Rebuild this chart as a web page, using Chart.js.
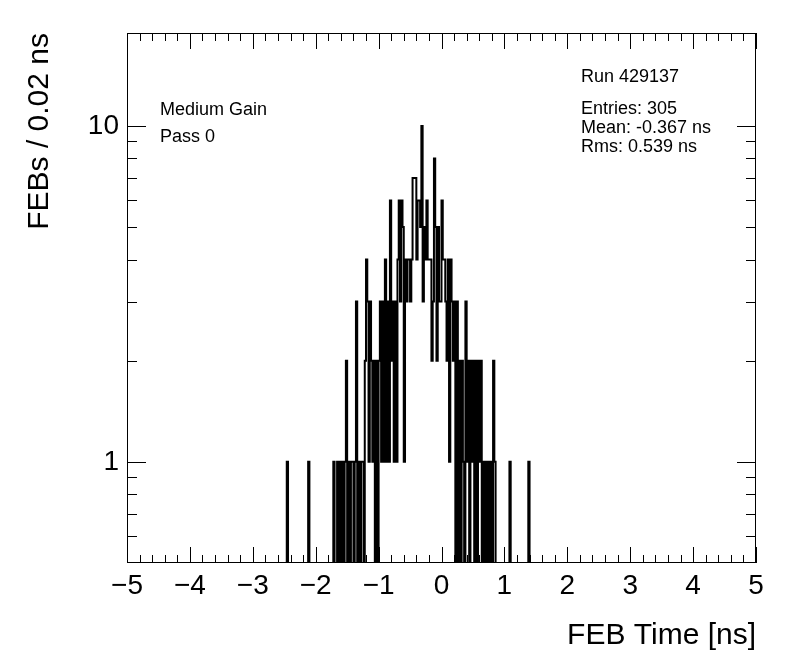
<!DOCTYPE html>
<html>
<head>
<meta charset="utf-8">
<script src="https://cdn.jsdelivr.net/npm/chart.js@4.4.1/dist/chart.umd.min.js"></script>
<style>
    html, body { margin: 0; padding: 0; background: #ffffff; }
</style>
</head>
<body>
<canvas id="feb-time" width="796" height="672"></canvas>
<script>
// FEB time histogram, 500 bins of 0.02 ns between -5 and 5 ns.
// Only the filled bins are listed (centre in ns, entries); all others are empty.
var binCentres = [
    -2.45, -2.11, -1.71, -1.65,
    -1.61, -1.57, -1.53, -1.51, -1.47, -1.43, -1.41, -1.37, -1.35, -1.31,
    -1.27, -1.25, -1.21, -1.19, -1.17, -1.15, -1.13, -1.11, -1.09, -1.07,
    -1.03, -0.99,
    -0.97, -0.95, -0.93, -0.91, -0.89, -0.87, -0.85, -0.83, -0.81, -0.79,
    -0.77, -0.75, -0.73, -0.71, -0.69, -0.67, -0.65, -0.63, -0.61, -0.59,
    -0.57, -0.55, -0.53, -0.51, -0.49, -0.47, -0.45, -0.43,
    -0.41, -0.39, -0.37, -0.35, -0.33, -0.31, -0.29, -0.27, -0.25, -0.23,
    -0.21, -0.19, -0.17, -0.15, -0.13, -0.11, -0.09, -0.07, -0.05, -0.03,
    -0.01, 0.01, 0.03, 0.05, 0.07, 0.09, 0.11, 0.13, 0.15, 0.17,
    0.19, 0.21, 0.25,
    0.29, 0.33, 0.35, 0.39, 0.41, 0.43, 0.47, 0.49, 0.51, 0.55,
    0.59, 0.61, 0.63, 0.67, 0.71, 0.75, 0.79, 0.83, 0.85,
    1.09, 1.39
];
var binCounts = [
    1, 1, 1, 1,
    1, 1, 1, 2, 1, 1, 1, 1, 3, 1,
    1, 1, 2, 4, 3, 1, 3, 2, 1, 2,
    2, 2,
    3, 1, 3, 1, 4, 1, 3, 1, 6, 2,
    3, 1, 3, 1, 4, 6, 3, 6, 5, 1,
    4, 3, 4, 4, 3, 4, 7, 7,
    7, 4, 6, 6, 5, 10, 3, 5, 4, 6,
    4, 4, 4, 2, 3, 8, 5, 2, 5, 3,
    3, 6, 4, 4, 3, 2, 4, 1, 4, 3,
    2, 3, 3,
    2, 2, 1, 3, 1, 2, 2, 1, 2, 2,
    2, 1, 2, 1, 1, 1, 1, 2, 1,
    1, 1
];

var xMin = -5, xMax = 5, binWidth = 0.02;
var yMin = 0.5, yMax = 18.9;
var xTickValues = [-5, -4, -3, -2, -1, 0, 1, 2, 3, 4, 5];
var yTickValues = [1, 10];
var yMinorTicks = [0.6, 0.7, 0.8, 0.9, 2, 3, 4, 5, 6, 7, 8, 9];

var statsLines = ["Entries: 305", "Mean: -0.367 ns", "Rms: 0.539 ns"];

// empty bins sit below the log axis, so they get drawn down through the frame
var EMPTY_LEVEL = 0.1;

var nBins = Math.round((xMax - xMin) / binWidth);
var counts = [];
for (var i = 0; i < nBins; i++) counts.push(0);
binCentres.forEach(function (c, i) {
    counts[Math.round((c - xMin - binWidth / 2) / binWidth)] = binCounts[i];
});
var steps = counts.map(function (n, k) {
    return { x: xMin + k * binWidth, y: n > 0 ? n : EMPTY_LEVEL };
});
steps.push({ x: xMax, y: steps[steps.length - 1].y });

var FONT = "'Liberation Sans', Arial, sans-serif";

var rootFrame = {
    id: "rootFrame",
    afterDatasetsDraw: function (chart) {
        var ctx = chart.ctx, a = chart.chartArea;
        var xs = chart.scales.x, ys = chart.scales.y;
        ctx.save();
        ctx.strokeStyle = "#000";
        ctx.lineWidth = 1;
        ctx.strokeRect(a.left + 0.5, a.top + 0.5, a.right - a.left - 1, a.bottom - a.top - 1);
        ctx.beginPath();
        // x ticks, every 0.2 ns, on bottom and top
        for (var i = 0; i <= 50; i++) {
            var v = xMin + i * 0.2;
            var px = Math.round(xs.getPixelForValue(v)) + 0.5;
            var len = i % 5 === 0 ? 16 : 8;
            ctx.moveTo(px, a.bottom);
            ctx.lineTo(px, a.bottom - len);
            ctx.moveTo(px, a.top);
            ctx.lineTo(px, a.top + len);
        }
        // y ticks on left and right
        yTickValues.concat(yMinorTicks).forEach(function (v) {
            var py = Math.round(ys.getPixelForValue(v)) + 0.5;
            var len = yTickValues.indexOf(v) >= 0 ? 19 : 10;
            ctx.moveTo(a.left, py);
            ctx.lineTo(a.left + len, py);
            ctx.moveTo(a.right, py);
            ctx.lineTo(a.right - len, py);
        });
        ctx.stroke();

        ctx.fillStyle = "#000";
        ctx.font = "18px " + FONT;
        ctx.textBaseline = "alphabetic";
        ctx.textAlign = "left";
        ctx.fillText("Medium Gain", 160, 115);
        ctx.fillText("Pass 0", 160, 142);
        ctx.fillText("Run 429137", 581, 82);
        statsLines.forEach(function (t, i) {
            ctx.fillText(t, 581, 114 + i * 19);
        });
        ctx.restore();
    }
};

var ctx = document.getElementById("feb-time").getContext("2d");
var chart = new Chart(ctx, {
    type: "line",
    data: {
        datasets: [
            {
                data: steps,
                stepped: true,
                borderColor: "#000",
                borderWidth: 2,
                pointRadius: 0,
                fill: false,
                clip: 0,
            },
        ],
    },
    options: {
        responsive: false,
        animation: false,
        devicePixelRatio: 1,
        layout: { padding: { top: 33, right: 40, left: 0, bottom: 0 } },
        plugins: { legend: { display: false }, tooltip: { enabled: false } },
        scales: {
            x: {
                type: "linear",
                min: xMin,
                max: xMax,
                afterFit: function (s) { s.height = 109; },
                afterBuildTicks: function (s) {
                    s.ticks = xTickValues.map(function (v) { return { value: v }; });
                },
                grid: { display: false, drawTicks: false },
                border: { display: false },
                ticks: {
                    color: "#000",
                    font: { family: FONT, size: 28 },
                    padding: 6,
                    maxRotation: 0,
                    autoSkip: false,
                    callback: function (v) { return v < 0 ? "\u2212" + (-v) : String(v); },
                },
                title: {
                    display: true,
                    text: "FEB Time [ns]",
                    align: "end",
                    color: "#000",
                    font: { family: FONT, size: 30 },
                    padding: { top: 0, bottom: 18 },
                },
            },
            y: {
                type: "logarithmic",
                min: yMin,
                max: yMax,
                afterFit: function (s) { s.width = 127; },
                afterBuildTicks: function (s) {
                    s.ticks = yTickValues.map(function (v) { return { value: v }; });
                },
                grid: { display: false, drawTicks: false },
                border: { display: false },
                ticks: {
                    color: "#000",
                    font: { family: FONT, size: 28 },
                    padding: 8,
                    callback: function (v) { return String(v); },
                },
                title: {
                    display: true,
                    text: "FEBs / 0.02 ns",
                    align: "end",
                    color: "#000",
                    font: { family: FONT, size: 30 },
                    padding: { top: 22, bottom: 0 },
                },
            },
        },
    },
    plugins: [rootFrame],
});
</script>
</body>
</html>
